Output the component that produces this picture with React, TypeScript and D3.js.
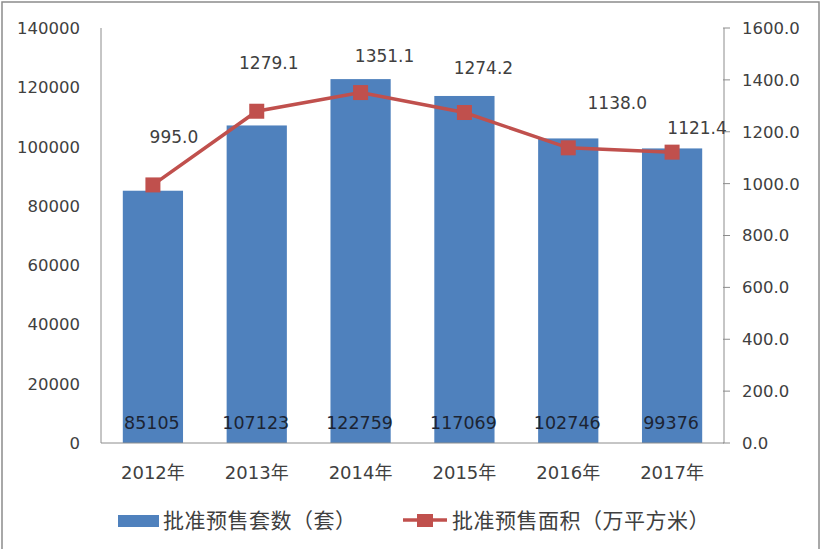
import React from "react";
import * as d3 from "d3";

const years = ["2012年", "2013年", "2014年", "2015年", "2016年", "2017年"];
const units = [85105, 107123, 122759, 117069, 102746, 99376];
const area = [995.0, 1279.1, 1351.1, 1274.2, 1138.0, 1121.4];
const leftTicks = [0, 20000, 40000, 60000, 80000, 100000, 120000, 140000];
const rightTicks = [0, 200, 400, 600, 800, 1000, 1200, 1400, 1600];
const barName = "批准预售套数（套）";
const lineName = "批准预售面积（万平方米）";

// manual nudges for the line value labels (as placed in the original)
const labelNudgeX = [21, 12, 24, 19, 49, 25];
const labelNudgeY = [-48, -48, -37, -45, -45, -24];

const W = 827;
const H = 549;
const X0 = 101;
const X1 = 724;
const Y0 = 443;
const Y1 = 28;

const BLUE = "#4F81BD";
const RED = "#C0504D";
const TXT = "#404040";
const NUM = "'DejaVu Sans', 'Noto Sans CJK SC', sans-serif";
const CJK = "'Noto Sans CJK SC', sans-serif";

export default function App() {
  const x = d3.scaleBand<string>().domain(years).range([X0, X1]).paddingInner(0.42).paddingOuter(0.21);
  const yL = d3.scaleLinear().domain([0, 140000]).range([Y0, Y1]);
  const yR = d3.scaleLinear().domain([0, 1600]).range([Y0, Y1]);
  const cx = (i: number) => (x(years[i]) as number) + x.bandwidth() / 2;
  const line = d3
    .line<number>()
    .x((_, i) => cx(i))
    .y((d) => yR(d));

  return (
    <svg width={W} height={H} style={{ position: "absolute", left: 0, top: 0, background: "#fff" }}>
      <rect x={2} y={2} width={817} height={H + 10} fill="#fff" stroke="#8c8c8c" strokeWidth={1.5} />

      {/* left axis */}
      <line x1={X0} x2={X0} y1={Y1} y2={Y0} stroke="#8c8c8c" strokeWidth={1} />
      {leftTicks.map((t) => (
        <text key={t} x={80} y={yL(t)} dy="0.36em" textAnchor="end" fontFamily={NUM} fontSize={16.5} fill={TXT}>
          {t}
        </text>
      ))}

      {/* right axis */}
      <line x1={X1} x2={X1} y1={Y1} y2={Y0} stroke="#8c8c8c" strokeWidth={1} />
      {rightTicks.map((t) => (
        <g key={t}>
          <line x1={X1 - 1} x2={X1 + 6} y1={yR(t)} y2={yR(t)} stroke="#8c8c8c" strokeWidth={1} />
          <text x={742} y={yR(t)} dy="0.36em" textAnchor="start" fontFamily={NUM} fontSize={16.5} fill={TXT}>
            {t.toFixed(1)}
          </text>
        </g>
      ))}

      {/* bars */}
      {units.map((v, i) => (
        <rect key={i} x={x(years[i])} y={yL(v)} width={x.bandwidth()} height={Y0 - yL(v)} fill={BLUE} />
      ))}

      {/* x axis */}
      <line x1={X0} x2={X1} y1={Y0} y2={Y0} stroke="#8c8c8c" strokeWidth={1} />
      {years.map((yr, i) => (
        <text key={yr} x={cx(i)} y={473} dy="0.36em" textAnchor="middle" fontFamily={NUM} fontSize={18} fill={TXT}>
          {yr}
        </text>
      ))}

      {/* bar value labels */}
      {units.map((v, i) => (
        <text key={i} x={cx(i) - 1} y={423} dy="0.36em" textAnchor="middle" fontFamily={NUM} fontSize={17.5} fill="#1c2433">
          {v}
        </text>
      ))}

      {/* line */}
      <path d={line(area) as string} fill="none" stroke={RED} strokeWidth={3.5} />
      {area.map((v, i) => (
        <rect key={i} x={cx(i) - 7.5} y={yR(v) - 7.5} width={15} height={15} fill={RED} />
      ))}
      {area.map((v, i) => (
        <text
          key={i}
          x={cx(i) + labelNudgeX[i]}
          y={yR(v) + labelNudgeY[i]}
          dy="0.36em"
          textAnchor="middle"
          fontFamily={NUM}
          fontSize={17}
          fill={TXT}
        >
          {v.toFixed(1)}
        </text>
      ))}

      {/* legend */}
      <rect x={118} y={515} width={41} height={12} fill={BLUE} />
      <text x={163} y={520} dy="0.36em" fontFamily={CJK} fontSize={21} letterSpacing={0.5} fill={TXT}>
        {barName}
      </text>
      <line x1={403} x2={447} y1={520} y2={520} stroke={RED} strokeWidth={3.5} />
      <rect x={417} y={514} width={16} height={13} fill={RED} />
      <text x={452} y={520} dy="0.36em" fontFamily={CJK} fontSize={21} letterSpacing={0.5} fill={TXT}>
        {lineName}
      </text>
    </svg>
  );
}
